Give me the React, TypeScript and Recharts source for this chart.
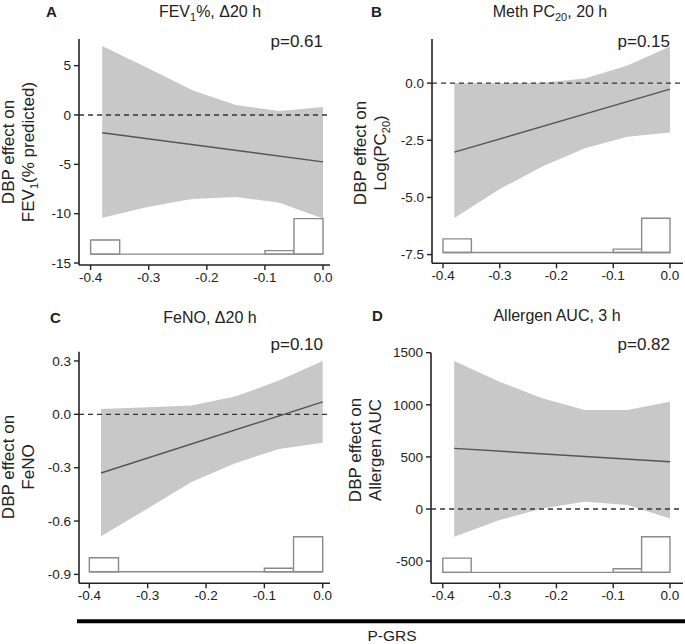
import React from 'react'
import { ComposedChart, Area, Line, XAxis, YAxis, ReferenceLine, ReferenceArea } from 'recharts'

// shared x positions of the fitted curve / confidence band (P-GRS)
const GRS_X = [-0.38, -0.3, -0.225, -0.15, -0.075, 0]
const FIT_X = [-0.38, 0]
const X_TICKS = [-0.4, -0.3, -0.2, -0.1, 0]

// P-GRS histogram (bins of 0.05)
const BIN_START = [-0.4, -0.35, -0.3, -0.25, -0.2, -0.15, -0.1, -0.05]
const BIN_COUNT = [4, 0, 0, 0, 0, 0, 1, 10]
const BIN_W = 0.05

// A: FEV1 %, delta 20 h
const fevUpper = [7.0, 4.7, 2.5, 1.0, 0.4, 0.8]
const fevLower = [-10.4, -9.3, -8.5, -8.3, -8.9, -10.5]
const fevFit = [-1.8, -4.75]
const fevTicks = [-15, -10, -5, 0, 5]

// B: Meth PC20, 20 h
const pcUpper = [0.0, 0.0, 0.02, 0.2, 0.77, 1.6]
const pcLower = [-5.9, -4.63, -3.65, -2.85, -2.34, -2.16]
const pcFit = [-3.02, -0.26]
const pcTicks = [-7.5, -5, -2.5, 0]

// C: FeNO, delta 20 h
const fenoUpper = [0.03, 0.04, 0.05, 0.1, 0.19, 0.3]
const fenoLower = [-0.685, -0.53, -0.38, -0.275, -0.195, -0.16]
const fenoFit = [-0.33, 0.07]
const fenoTicks = [-0.9, -0.6, -0.3, 0, 0.3]

// D: Allergen AUC, 3 h
const aucUpper = [1421, 1222, 1062, 950, 950, 1030]
const aucLower = [-266, -106, 6, 70, 38, -90]
const aucFit = [582, 454]
const aucTicks = [-500, 0, 500, 1000, 1500]

const BAND = '#c8c8c8'
const AXIS = '#222'
const FONT = '"Liberation Sans", Arial, sans-serif'

type PanelProps = {
  left: number
  top: number
  width: number
  height: number
  plot: { left: number; right: number; top: number; bottom: number }
  xDomain: [number, number]
  yDomain: [number, number]
  yTicks: number[]
  yFormat: (v: number) => string
  upper: number[]
  lower: number[]
  fit: number[]
  histBase: number
  histUnit: number
}

const Panel = ({ left, top, width, height, plot, xDomain, yDomain, yTicks, yFormat, upper, lower, fit, histBase, histUnit }: PanelProps) => {
  const yAxisW = 45
  const xAxisH = 30
  const margin = {
    top: plot.top - top,
    left: plot.left - left - yAxisW,
    right: left + width - plot.right,
    bottom: top + height - plot.bottom - xAxisH,
  }
  const data = GRS_X.map((x, i) => {
    const k = FIT_X.indexOf(x)
    return { x, band: [lower[i], upper[i]], fit: k >= 0 ? fit[k] : null }
  })
  return (
    <div style={{ position: 'absolute', left, top }}>
      <ComposedChart width={width} height={height} data={data} margin={margin}>
        <XAxis
          type="number"
          dataKey="x"
          domain={xDomain}
          ticks={X_TICKS}
          allowDataOverflow
          height={xAxisH}
          tickFormatter={(v: number) => v.toFixed(1)}
          axisLine={{ stroke: AXIS, strokeWidth: 1.6 }}
          tickLine={{ stroke: AXIS, strokeWidth: 1.4 }}
          tickSize={5}
          tick={{ fill: AXIS, fontSize: 13.5, fontFamily: FONT }}
        />
        <YAxis
          type="number"
          domain={yDomain}
          ticks={yTicks}
          allowDataOverflow
          width={yAxisW}
          tickFormatter={yFormat}
          axisLine={{ stroke: AXIS, strokeWidth: 1.6 }}
          tickLine={{ stroke: AXIS, strokeWidth: 1.4 }}
          tickSize={5}
          tickMargin={3}
          tick={{ fill: AXIS, fontSize: 13.5, fontFamily: FONT }}
        />
        <Area dataKey="band" type="linear" stroke="none" fill={BAND} fillOpacity={1} isAnimationActive={false} activeDot={false} />
        <ReferenceLine y={0} stroke="#333" strokeWidth={1.3} strokeDasharray="5 4" />
        {BIN_START.map((b, i) =>
          BIN_COUNT[i] > 0 ? (
            <ReferenceArea
              key={i}
              x1={b}
              x2={b + BIN_W}
              y1={histBase}
              y2={histBase + BIN_COUNT[i] * histUnit}
              fill="#fff"
              fillOpacity={1}
              stroke="#8a8a8a"
              strokeWidth={1.4}
            />
          ) : null
        )}
        <ReferenceLine
          segment={[
            { x: BIN_START[0], y: histBase },
            { x: BIN_START[BIN_START.length - 1] + BIN_W, y: histBase },
          ]}
          stroke="#8a8a8a"
          strokeWidth={1.4}
        />
        <Line dataKey="fit" type="linear" connectNulls stroke="#555" strokeWidth={1.4} dot={false} activeDot={false} isAnimationActive={false} />
      </ComposedChart>
    </div>
  )
}

// text with a subscript: pre + sub (lowered) + post
const SubText = ({ pre, sub, post }: { pre: string; sub: string; post: string }) => (
  <>
    <tspan>{pre}</tspan>
    <tspan dy={4} fontSize={11}>{sub}</tspan>
    <tspan dy={-4}>{post}</tspan>
  </>
)

const YLabel = ({ x1, x2, cy, line2 }: { x1: number; x2: number; cy: number; line2: React.ReactNode }) => (
  <g fontSize={17} fill="#222" textAnchor="middle">
    <text transform={`translate(${x1},${cy}) rotate(-90)`}>DBP effect on</text>
    <text transform={`translate(${x2},${cy}) rotate(-90)`}>{line2}</text>
  </g>
)

export default function App() {
  const f1 = (v: number) => v.toFixed(1)
  const f0 = (v: number) => String(v)
  return (
    <div style={{ position: 'absolute', left: 0, top: 0, width: 685, height: 644, background: '#fff', fontFamily: FONT }}>
      <Panel
        left={0} top={0} width={345} height={300}
        plot={{ left: 79, right: 330, top: 39, bottom: 265 }}
        xDomain={[-0.42, 0.012]} yDomain={[-15.2, 7.7]} yTicks={fevTicks} yFormat={f0}
        upper={fevUpper} lower={fevLower} fit={fevFit} histBase={-14.1} histUnit={0.36}
      />
      <Panel
        left={340} top={0} width={345} height={300}
        plot={{ left: 432, right: 683, top: 39, bottom: 263.3 }}
        xDomain={[-0.4194, 0.0229]} yDomain={[-7.88, 1.93]} yTicks={pcTicks} yFormat={f1}
        upper={pcUpper} lower={pcLower} fit={pcFit} histBase={-7.41} histUnit={0.15}
      />
      <Panel
        left={0} top={300} width={345} height={320}
        plot={{ left: 79, right: 330, top: 351.7, bottom: 583.3 }}
        xDomain={[-0.4177, 0.0125]} yDomain={[-0.95, 0.352]} yTicks={fenoTicks} yFormat={f1}
        upper={fenoUpper} lower={fenoLower} fit={fenoFit} histBase={-0.885} histUnit={0.0197}
      />
      <Panel
        left={340} top={300} width={345} height={320}
        plot={{ left: 431, right: 683, top: 352.7, bottom: 583.3 }}
        xDomain={[-0.4208, 0.0229]} yDomain={[-713, 1500]} yTicks={aucTicks} yFormat={f0}
        upper={aucUpper} lower={aucLower} fit={aucFit} histBase={-608} histUnit={34.2}
      />
      <svg width={685} height={644} style={{ position: 'absolute', left: 0, top: 0, pointerEvents: 'none' }} fontFamily={FONT}>
        <g fontWeight="bold" fontSize={15} fill="#222">
          <text x={46} y={16.5}>A</text>
          <text x={371} y={16.5}>B</text>
          <text x={50} y={323}>C</text>
          <text x={372} y={321}>D</text>
        </g>
        <g fontSize={16} fill="#222" textAnchor="middle">
          <text x={210} y={16.7}><SubText pre="FEV" sub="1" post="%, Δ20 h" /></text>
          <text x={550} y={16.7}><SubText pre="Meth PC" sub="20" post=", 20 h" /></text>
          <text x={210} y={323}>FeNO, Δ20 h</text>
          <text x={557} y={321}>Allergen AUC, 3 h</text>
        </g>
        <g fontSize={17} fill="#222" textAnchor="end">
          <text x={323} y={46.7}>p=0.61</text>
          <text x={670} y={46.7}>p=0.15</text>
          <text x={323} y={350}>p=0.10</text>
          <text x={670} y={350}>p=0.82</text>
        </g>
        <YLabel x1={14} x2={34} cy={152} line2={<SubText pre="FEV" sub="1" post="(% predicted)" />} />
        <YLabel x1={365.5} x2={385.5} cy={153} line2={<SubText pre="Log(PC" sub="20" post=")" />} />
        <YLabel x1={14} x2={34} cy={467} line2="FeNO" />
        <YLabel x1={361} x2={381} cy={450} line2="Allergen AUC" />
        <line x1={77} x2={685} y1={621.3} y2={621.3} stroke="#000" strokeWidth={4} />
        <text x={392} y={641} fontSize={15.5} fill="#222" textAnchor="middle">P-GRS</text>
      </svg>
    </div>
  )
}
